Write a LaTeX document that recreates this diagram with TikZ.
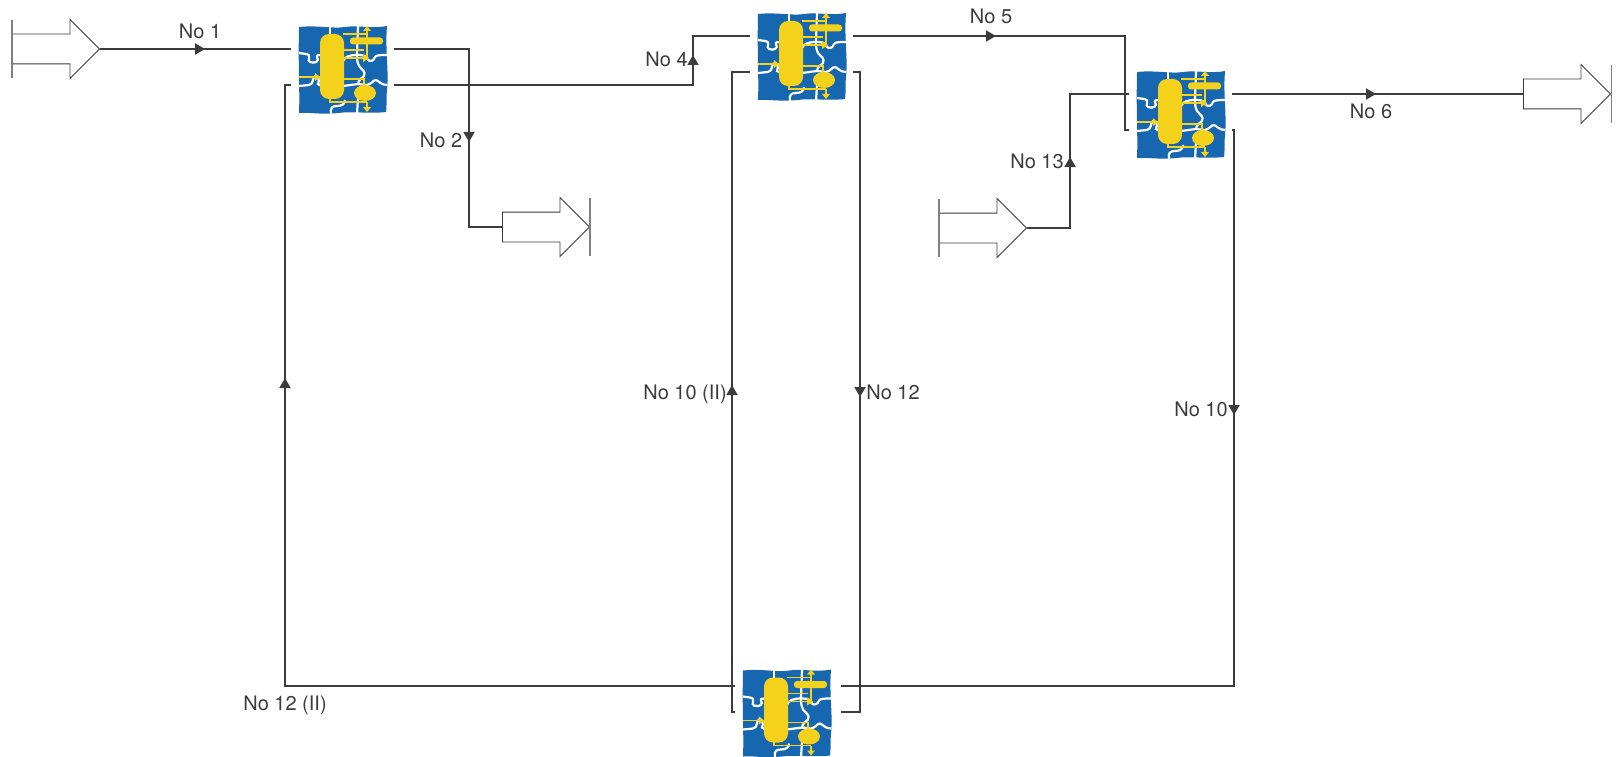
\documentclass[tikz,border=0pt]{standalone}
\usepackage{fontspec}
\setmainfont{TeX Gyre Heros}
\usetikzlibrary{positioning,arrows.meta,shapes.arrows,decorations.markings}
\definecolor{unitblue}{HTML}{1667B0}
\definecolor{unityellow}{HTML}{F4D11A}
\definecolor{linegray}{HTML}{3C3C3C}
\newcommand{\unitdraw}{%
\begin{scope}[shift={(path picture bounding box.center)},x=1pt,y=-1pt]
\fill[unitblue] (-44,-43) .. controls (-25,-45) and (-10,-41) .. (2,-43) .. controls (15,-45) and (30,-41) .. (44,-44) .. controls (42,-20) and (46,0) .. (44,20) .. controls (43,30) and (44,38) .. (43,42) .. controls (25,44) and (10,41) .. (-5,43) .. controls (-20,45) and (-35,42) .. (-44,43) .. controls (-43,20) and (-45,0) .. cycle;
\draw[puzzle] (-44,-17) -- (-37,-16) .. controls (-30,-15) and (-37,-9) .. (-33,-8) .. controls (-28,-6) and (-23,-9) .. (-26,-13) .. controls (-27,-15) and (-24,-15) .. (-20,-15);
\draw[puzzle] (0,-9) .. controls (2,-13) and (5,-15) .. (15,-15) .. controls (21,-15) and (23,-14) .. (25,-10) .. controls (27,-8) and (31,-9) .. (32,-13) .. controls (33,-15) and (38,-15) .. (44,-15);
\draw[puzzle] (-44,16) -- (-34,15) .. controls (-29,14) and (-31,8) .. (-28,6) .. controls (-25,5) and (-23,10) .. (-25,14) -- (-20,17);
\draw[puzzle] (0,16) -- (15,14) -- (24,15) .. controls (29,14) and (30,10) .. (33,10) .. controls (36,11) and (38,15) .. (44,15);
\draw[puzzle] (-13,-44) -- (-13,-35);
\draw[puzzle] (15,-44) -- (14,-15) .. controls (14,-8) and (15,-6) .. (16,-4) .. controls (19,0) and (23,1) .. (21,6) .. controls (19,9) and (15,9) .. (15,15);
\draw[puzzle] (15,28) -- (14,44);
\draw[puzzle] (-12,44) .. controls (-13,38) and (-11,36) .. (-6,36) .. controls (-1,36) and (2,34) .. (2,30);
\draw[pipe] (0,-36) -- (24,-36);
\draw[pipe] (24,-40) -- (24,-10);
\draw[pipe] (0,-20) -- (21,-20);
\draw[pipe] (0,-12) -- (24,-12);
\draw[pipe] (-44,7) -- (-22,7);
\draw[pipe] (0,9) -- (21,9) -- (21,18);
\draw[pipe] (-13,28) -- (-13,32) -- (24,32);
\draw[pipe] (24,32) -- (24,38);
\fill[unityellow] (24,-44) -- (28,-39) -- (20,-39) -- cycle;
\fill[unityellow] (24,42) -- (28,37) -- (20,37) -- cycle;
\fill[unityellow] (26,-12) -- (20,-16) -- (20,-8) -- cycle;
\fill[unityellow] (-23,7) -- (-28,3) -- (-28,11) -- cycle;
\fill[unityellow,rounded corners=9pt] (-23,-36) rectangle (1,29);
\fill[unityellow,rounded corners=3pt] (7,-32.5) rectangle (40,-25.5);
\fill[unityellow] (22,23) ellipse (11pt and 8pt);
\end{scope}}

\begin{document}
\begin{tikzpicture}[
x=1pt,y=-1pt,
font=\fontsize{20}{24}\selectfont,
unit/.style={minimum width=90pt, minimum height=90pt, inner sep=0pt, path picture={\unitdraw}},
puzzle/.style={white, line width=2.2pt},
pipe/.style={unityellow, line width=1.5pt},
tagarrow/.style={draw=linegray, line width=0.9pt, fill=white, shape=single arrow, anchor=tail, inner xsep=0pt, inner ysep=14.5pt, minimum height=87pt, minimum width=58pt, single arrow head extend=14.5pt},
tagbar/.style={draw=gray, line width=1.2pt},
stream/.style={linegray, line width=1.8pt},
tipat/.style={postaction={decorate, decoration={markings, mark=at position #1 with {\arrow{Triangle[length=10pt,width=11pt]}}}}},
label/.style={text=linegray, anchor=base, inner sep=0pt}
]
\useasboundingbox (0,0) rectangle (1617,757);

\node[unit] (unit1) at (343,70) {};
\node[unit] (unit2) at (802,57) {};
\node[unit] (unit3) at (1181,115) {};
\node[unit] (unit4) at (787,713.5) {};

\foreach \u in {unit1,unit2,unit3}{
\coordinate (\u-lt) at ([shift={(-52,-21)}]\u.center);
\coordinate (\u-lb) at ([shift={(-52,15)}]\u.center);
\coordinate (\u-rt) at ([shift={(51,-21)}]\u.center);
\coordinate (\u-rb) at ([shift={(51,15)}]\u.center);
}
\coordinate (unit4-lt) at (735,686);
\coordinate (unit4-lb) at (735,712);
\coordinate (unit4-rt) at (841,686);
\coordinate (unit4-rb) at (841,712);

\node[tagarrow] (feed1) at (12,49) {};
\node[tagarrow] (feed2) at (939,228) {};
\node[tagarrow] (prod1) at (502,227) {};
\node[tagarrow] (prod2) at (1523,94) {};

\foreach \t in {feed1.tail,feed2.tail,prod1.tip,prod2.tip}{
\draw[tagbar] ([yshift=29pt]\t) -- ([yshift=-29pt]\t);
}

\draw[stream, tipat=105pt] (feed1.tip) -- (unit1-lt);
\draw[stream, tipat=168pt] (unit1-rt) -- ++(75,0) |- (prod1.tail);
\draw[stream, tipat=329pt] (unit1-rb) -- ++(299,0) |- (unit2-lt);
\draw[stream, tipat=143pt] (unit2-rt) -- ++(272,0) |- (unit3-lb);
\draw[stream, tipat=144pt] (unit3-rt) -- (prod2.tail);
\draw[stream, tipat=114pt] (feed2.tip) -- ++(43,0) |- (unit3-lt);
\draw[stream, tipat=287pt] (unit3-rb) -- ++(2,0) |- (unit4-rt);
\draw[stream, tipat=332pt] (unit2-rb) -- ++(7,0) |- (unit4-rb);
\draw[stream, tipat=330pt] (unit4-lb) -- ++(-3,0) |- (unit2-lb);
\draw[stream, tipat=758pt] (unit4-lt) -- ++(-450,0) |- (unit1-lb);

\node[label] (no1) at (200,39) {No 1};
\node[label] (no2) at (441,147) {No 2};
\node[label] (no4) at (666.5,67) {No 4};
\node[label] (no5) at (991,24) {No 5};
\node[label] (no6) at (1371,119) {No 6};
\node[label] (no13) at (1037,168) {No 13};
\node[label] (no10b) at (685,399) {No 10 (II)};
\node[label] (no12) at (893,399) {No 12};
\node[label] (no10) at (1201,416) {No 10};
\node[label] (no12b) at (285,710) {No 12 (II)};
\end{tikzpicture}
\end{document}
